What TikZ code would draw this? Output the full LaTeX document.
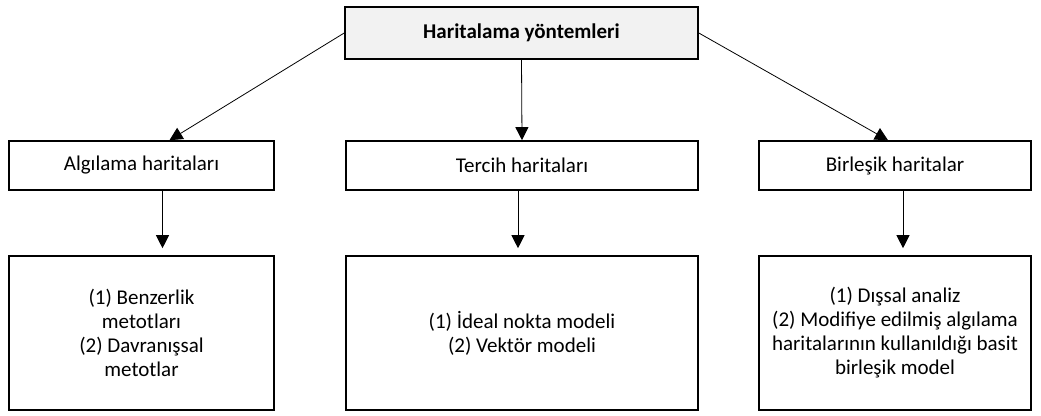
\documentclass[tikz,border=0pt]{standalone}
\usepackage{fontspec}
\setmainfont{Carlito}
\usetikzlibrary{arrows.meta}
\begin{document}
\begin{tikzpicture}[x=1pt,y=-1pt,
  kutu/.style={draw,line width=1.6pt,align=center,font=\fontsize{21}{24}\selectfont,inner sep=0pt},
  ok/.style={-{Triangle[width=13pt,length=13pt]},line width=0.8pt}]
\useasboundingbox (0,0) rectangle (1041,415);
\node[kutu,fill=black!5,minimum width=353pt,minimum height=52pt,font=\fontsize{21}{24}\selectfont\bfseries] (hy) at (521.5,33) {Haritalama yöntemleri};
\node[kutu,minimum width=265pt,minimum height=49pt] (alg) at (141.5,165.5) {Algılama haritaları};
\node[kutu,minimum width=352pt,minimum height=49pt] (ter) at (522,165.5) {Tercih haritaları};
\node[kutu,minimum width=272pt,minimum height=49pt] (bir) at (895,165.5) {Birleşik haritalar};
\node[kutu,minimum width=265pt,minimum height=154pt] (alt1) at (141.5,333) {(1) Benzerlik\\metotları\\(2) Davranışsal\\metotlar};
\node[kutu,minimum width=352pt,minimum height=154pt] (alt2) at (522,333) {(1) İdeal nokta modeli\\(2) Vektör modeli};
\node[kutu,minimum width=272pt,minimum height=154pt] (alt3) at (895,333) {(1) Dışsal analiz\\(2) Modifiye edilmiş algılama\\haritalarının kullanıldığı basit\\birleşik model};
\draw[ok] (hy.west) -- ([xshift=28pt]alg.north);
\draw[ok] (hy.south) -- (ter.north);
\draw[ok] (hy.east) -- ([xshift=-7pt]bir.north);
\draw[ok,shorten >=7pt] ([xshift=21pt]alg.south) -- ([xshift=21pt]alg.south |- alt1.north);
\draw[ok,shorten >=7pt] ([xshift=-4pt]ter.south) -- ([xshift=-4pt]ter.south |- alt2.north);
\draw[ok,shorten >=7pt] ([xshift=8pt]bir.south) -- ([xshift=8pt]bir.south |- alt3.north);
\end{tikzpicture}
\end{document}
